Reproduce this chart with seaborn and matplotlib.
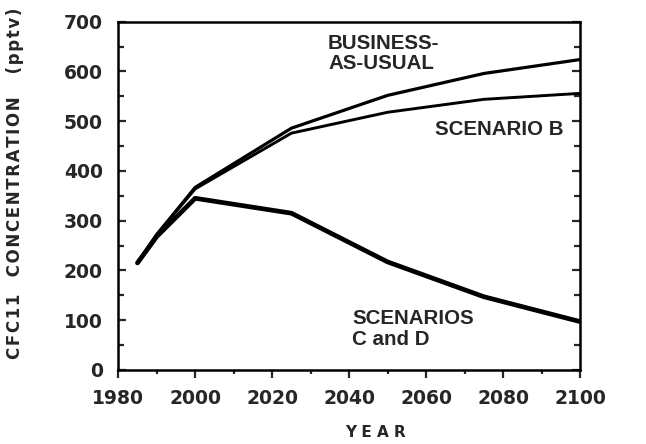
import pandas as pd
import matplotlib.pyplot as plt
import seaborn as sns
from matplotlib.ticker import MultipleLocator

sns.set_style("white")
plt.rcParams['font.family'] = ['DejaVu Sans']

# values
years = [1985, 1990, 2000, 2025, 2050, 2075, 2100]
business_as_usual = [215, 272, 367, 486, 552, 596, 624]
scenario_b = [215, 272, 364, 476, 518, 544, 556]
scenarios_c_d = [215, 268, 345, 315, 217, 147, 97]

df = pd.DataFrame({
    'Year': years * 3,
    'CFC11': business_as_usual + scenario_b + scenarios_c_d,
    'Scenario': ['BAU'] * 7 + ['B'] * 7 + ['CD'] * 7,
})


def tracked(s, sep='\u200a'):
    # crude letter spacing: hair space between characters
    return sep.join(s)


fig = plt.figure(figsize=(6.46, 4.44), dpi=100)
ax = fig.add_axes([0.183, 0.167, 0.715, 0.784])

widths = {'BAU': 2.3, 'B': 2.1, 'CD': 3.4}
for name, grp in df.groupby('Scenario', sort=False):
    sns.lineplot(data=grp, x='Year', y='CFC11', color='black',
                 linewidth=widths[name], ax=ax, legend=False)

ax.set_xlim(1980, 2100)
ax.set_ylim(0, 700)
ax.xaxis.set_major_locator(MultipleLocator(20))
ax.xaxis.set_minor_locator(MultipleLocator(10))
ax.yaxis.set_major_locator(MultipleLocator(100))
ax.yaxis.set_minor_locator(MultipleLocator(50))

ax.tick_params(axis='y', which='both', direction='in', left=True, right=True,
               width=1.6, labelsize=13.5, pad=11)
ax.tick_params(axis='y', which='major', length=6)
ax.tick_params(axis='y', which='minor', length=4)
ax.tick_params(axis='x', which='both', direction='out', bottom=True, top=False,
               width=1.6, labelsize=13.5, pad=8)
ax.tick_params(axis='x', which='major', length=6)
ax.tick_params(axis='x', which='minor', length=3)
for lab in ax.get_xticklabels() + ax.get_yticklabels():
    lab.set_fontweight('bold')

for s in ax.spines.values():
    s.set_linewidth(1.8)
    s.set_color('black')

ax.set_xlabel('')
ax.set_ylabel('')
fig.text(375 / 646, 1 - 432 / 444, 'Y E A R', fontsize=11, fontweight='bold',
         ha='center', va='center')
ylab = tracked('CFC11') + '   ' + tracked('CONCENTRATION') + '    ' + tracked('(pptv)')
fig.text(15 / 646, 1 - 183 / 444, ylab, fontsize=12, fontweight='bold',
         rotation=90, ha='center', va='center')

ann = dict(fontsize=14.8, fontweight='bold', family=['Liberation Sans'],
           va='center', ha='left', linespacing=1.12)
ax.text(2034.5, 636, 'BUSINESS-\nAS-USUAL', **ann)
ax.text(2062.3, 483, 'SCENARIO B', **ann)
ax.text(2040.8, 82, 'SCENARIOS\nC and D', **ann)

fig.savefig('out.png', dpi=100)
